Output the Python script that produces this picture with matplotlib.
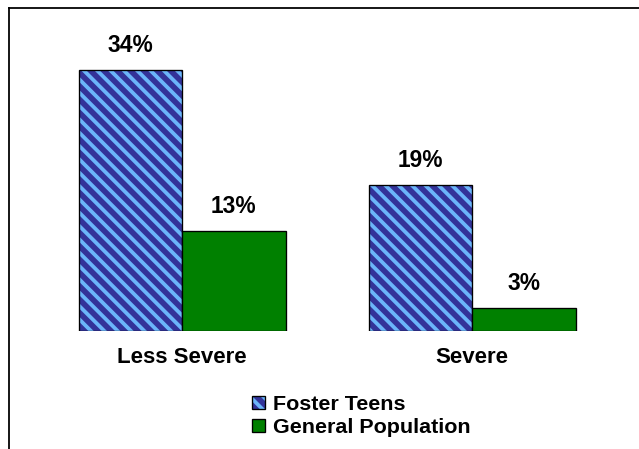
import matplotlib
matplotlib.use('Agg')
import matplotlib.pyplot as plt
import matplotlib.colors as mcolors
from matplotlib.lines import Line2D
import numpy as np

# severity groups and the share in each group
categories = ['Less Severe', 'Severe']
foster_teens = [34, 19]
general_population = [13, 3]
series_names = ['Foster Teens', 'General Population']

DARK_BLUE = '#333399'
LIGHT_BLUE = '#6BB5FA'
GREEN = '#008000'

DPI = 80
plt.rcParams['font.family'] = ['Liberation Sans', 'DejaVu Sans']
plt.rcParams['font.weight'] = 'bold'
plt.rcParams['hatch.linewidth'] = 3.4

fig = plt.figure(figsize=(639 / DPI, 449 / DPI), dpi=DPI)
fig.patch.set_facecolor('white')

# plot area: baseline sits 331 px from the top, 7.68 px per percent
px_per_pct = 7.68
ymax = 40
ax = fig.add_axes([0, (449 - 331) / 449, 1, ymax * px_per_pct / 449])
ax.set_ylim(0, ymax)
ax.set_xlim(-182 / 290, (639 - 182) / 290)
ax.patch.set_alpha(0)

x = np.arange(len(categories))
width = 103.5 / 290

b1 = ax.bar(x - width / 2, foster_teens, width, color=DARK_BLUE,
            edgecolor='black', linewidth=1.2, hatch='\\\\', label=series_names[0])
light = mcolors.to_rgba(LIGHT_BLUE)
for p in b1:
    p._hatch_color = light  # keep stripes light while the outline stays black
b2 = ax.bar(x + width / 2, general_population, width, color=GREEN,
            edgecolor='black', linewidth=1.2, label=series_names[1])

for bars, vals in ((b1, foster_teens), (b2, general_population)):
    for p, v in zip(bars, vals):
        ax.annotate(f'{v}%', (p.get_x() + p.get_width() / 2, v),
                    xytext=(0, 22), textcoords='offset points',
                    ha='center', va='center', fontsize=20.5, fontweight='bold')

ax.set_xticks(x)
ax.set_xticklabels(categories, fontsize=20, fontweight='bold')
ax.tick_params(axis='x', length=0, pad=14.5)
ax.set_yticks([])
for s in ax.spines.values():
    s.set_visible(False)

leg = fig.legend(handles=[b1, b2], loc='upper left',
                 bbox_to_anchor=(252 / 639, 1 - 395 / 449),
                 frameon=False, fontsize=19.3, handlelength=0.62,
                 handleheight=0.56, handletextpad=0.38, labelspacing=0.2,
                 borderpad=0, borderaxespad=0)
for t in leg.get_texts():
    t.set_fontweight('bold')

# frame lines along the top and left edge
fig.add_artist(Line2D([8.5 / 639, 8.5 / 639], [0, 1 - 7.7 / 449],
                      color='black', linewidth=1.6, transform=fig.transFigure))
fig.add_artist(Line2D([8.5 / 639, 1], [1 - 7.7 / 449, 1 - 7.7 / 449],
                      color='black', linewidth=1.6, transform=fig.transFigure))

fig.savefig('out.png', dpi=DPI)
